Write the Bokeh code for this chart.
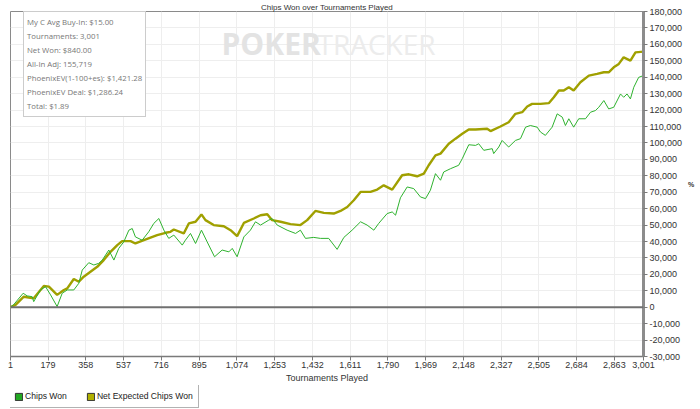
from bokeh.plotting import figure
from bokeh.layouts import column
from bokeh.models import (FixedTicker, NumeralTickFormatter, Legend, LegendItem,
                          Label, Span, Range1d)
from bokeh.embed import file_html
from bokeh.resources import INLINE

title_text = "Chips Won over Tournaments Played"
x_title = "Tournaments Played"
y_title = "%"

x_ticks = [1, 179, 358, 537, 716, 895, 1074, 1253, 1432, 1611, 1790, 1969,
           2148, 2327, 2505, 2684, 2863, 3001]
y_ticks = [-30000, -20000, -10000, 0, 10000, 20000, 30000, 40000, 50000, 60000,
           70000, 80000, 90000, 100000, 110000, 120000, 130000, 140000, 150000,
           160000, 170000, 180000]

# Net Expected Chips Won (olive)
ev_x = [1, 25, 64, 111, 159, 183, 222, 254, 270, 301, 325, 348, 380, 412, 443,
        475, 507, 530, 570, 593, 633, 696, 736, 759, 775, 822, 846, 878, 906,
        925, 964, 1012, 1044, 1075, 1107, 1154, 1186, 1218, 1241, 1281, 1328,
        1375, 1407, 1446, 1486, 1533, 1565, 1597, 1628, 1660, 1707, 1739, 1770,
        1810, 1857, 1889, 1928, 1960, 1983, 2015, 2039, 2078, 2110, 2142, 2173,
        2205, 2260, 2276, 2323, 2362, 2394, 2426, 2450, 2473, 2513, 2552, 2576,
        2600, 2623, 2647, 2670, 2702, 2742, 2781, 2813, 2836, 2860, 2884, 2907,
        2939, 2963, 3001]
ev_y = [0, 1400, 6400, 5400, 12900, 12500, 7500, 10500, 11500, 17200, 15500,
        18600, 21600, 24600, 28700, 33700, 37800, 40200, 40200, 38800, 40800,
        43900, 45300, 45900, 47300, 44900, 51000, 52000, 56500, 53000, 50000,
        49300, 46900, 43300, 51300, 54000, 56000, 56600, 53000, 52000, 50600,
        50000, 53000, 58600, 57400, 57000, 58600, 61000, 65100, 70200, 70200,
        71600, 74200, 71600, 80300, 80900, 79700, 81300, 86400, 92400, 93500,
        99500, 102600, 105600, 108200, 108200, 108600, 107200, 110000, 112600,
        117700, 118700, 122200, 123800, 123800, 124200, 127800, 131900, 131900,
        133900, 131900, 136900, 141000, 142000, 143000, 143000, 146000, 148100,
        152100, 150100, 155100, 155600]

# Chips Won (green)
cw_x = [1, 15, 61, 80, 104, 111, 143, 167, 191, 222, 246, 270, 301, 325, 341,
        372, 396, 419, 436, 467, 491, 514, 538, 562, 578, 593, 625, 656, 680,
        704, 728, 751, 775, 815, 830, 854, 878, 906, 933, 968, 1004, 1036, 1052,
        1075, 1107, 1138, 1162, 1186, 1225, 1241, 1265, 1312, 1352, 1375, 1399,
        1438, 1470, 1509, 1549, 1581, 1620, 1660, 1691, 1723, 1746, 1786, 1810,
        1826, 1849, 1881, 1912, 1944, 1968, 1991, 2015, 2039, 2054, 2086, 2125,
        2142, 2173, 2205, 2220, 2244, 2284, 2291, 2315, 2331, 2362, 2394, 2418,
        2442, 2465, 2497, 2513, 2536, 2568, 2592, 2616, 2631, 2647, 2670, 2694,
        2726, 2750, 2773, 2789, 2813, 2836, 2860, 2892, 2907, 2923, 2939, 2955,
        2978, 3001]
cw_y = [0, 1400, 8500, 6900, 6400, 3400, 10500, 12500, 7500, 400, 8500, 10500,
        10500, 14600, 22600, 27100, 25700, 26700, 28700, 34800, 28700, 35800,
        39800, 46900, 47900, 42800, 40800, 45900, 51000, 54000, 46900, 41900,
        43900, 37800, 40800, 44900, 38800, 46900, 39800, 30700, 34800, 33700,
        35800, 30700, 42800, 46900, 52000, 50000, 53000, 54000, 50000, 46900,
        44900, 46900, 41900, 42500, 41900, 41900, 35200, 42500, 46900, 52000,
        50000, 46900, 51000, 57000, 58000, 56000, 66600, 73200, 72200, 67100,
        66100, 71200, 81300, 77300, 82300, 84300, 86400, 90400, 98900, 98500,
        99500, 95500, 96500, 93500, 97500, 101500, 97500, 101500, 102600, 109600,
        110600, 109600, 106600, 104600, 109600, 117700, 115700, 110600, 114700,
        109600, 114700, 114700, 118700, 119700, 121700, 125800, 120700, 121700,
        129800, 127800, 129800, 126800, 133900, 139900, 141000]

series_names = ["Chips Won", "Net Expected Chips Won"]
stats_lines = ["My C Avg Buy-In: $15.00", "Tournaments: 3,001", "Net Won: $840.00",
               "All-In Adj: 155,719", "PhoenixEV(1-100+es): $1,421.28",
               "PhoenixEV Deal: $1,286.24", "Total: $1.89"]

GREEN = "#2eb22e"
OLIVE = "#a0a000"
AXIS_FONT = "Liberation Sans"
NAN = float("nan")

p = figure(width=700, height=385, output_backend="svg", toolbar_location=None,
           x_range=Range1d(1, 3001), y_range=Range1d(-30000, 180000),
           y_axis_location="right",
           min_border_left=10, min_border_top=10, min_border_right=57,
           min_border_bottom=28)
p.background_fill_color = "white"
p.border_fill_color = "white"
p.outline_line_color = "#8a8a8a"
p.outline_line_width = 1

p.title.text = title_text
p.title.text_font = AXIS_FONT
p.title.text_font_size = "8px"
p.title.text_font_style = "normal"
p.title.text_color = "#333333"
p.title.align = "center"
p.title.standoff = 0
p.title.offset = 28

p.xgrid.grid_line_color = "#eeeeee"
p.ygrid.grid_line_color = "#eeeeee"

# x axis
xa = p.xaxis[0]
xa.ticker = FixedTicker(ticks=x_ticks)
xa.formatter = NumeralTickFormatter(format="0,0")
xa.axis_line_color = "#7a7a7a"
xa.axis_line_width = 1.5
xa.major_tick_line_color = "#7a7a7a"
xa.major_tick_out = 4
xa.major_tick_in = 0
xa.minor_tick_line_color = None
xa.major_label_standoff = 1
xa.major_label_text_font = AXIS_FONT
xa.major_label_text_font_size = "9px"
xa.major_label_text_color = "#333333"
xa.axis_label = x_title
xa.axis_label_text_font = AXIS_FONT
xa.axis_label_text_font_size = "9px"
xa.axis_label_text_font_style = "normal"
xa.axis_label_text_color = "#333333"
xa.axis_label_standoff = 2

# y axis (right)
ya = p.yaxis[0]
ya.ticker = FixedTicker(ticks=y_ticks)
ya.formatter = NumeralTickFormatter(format="0,0")
ya.axis_line_color = "#8c8c8c"
ya.axis_line_width = 3
ya.major_tick_line_color = "#7a7a7a"
ya.major_tick_out = 4
ya.major_tick_in = 0
ya.minor_tick_line_color = None
ya.major_label_standoff = 2
ya.major_label_text_font = AXIS_FONT
ya.major_label_text_font_size = "9px"
ya.major_label_text_color = "#333333"
ya.axis_label = y_title
ya.axis_label_orientation = "horizontal"
ya.axis_label_text_font = AXIS_FONT
ya.axis_label_text_font_size = "7px"
ya.axis_label_text_font_style = "bold"
ya.axis_label_text_color = "#333333"
ya.axis_label_standoff = 3

# watermark
p.add_layout(Label(x=211, y=313, x_units="screen", y_units="screen", text="POKER",
                   text_font="Open Sans", text_font_style="bold", text_font_size="30px",
                   text_color="#e3e3e3", text_baseline="middle", text_align="left"))
p.add_layout(Label(x=307, y=313, x_units="screen", y_units="screen", text="TRACKER",
                   text_font="Open Sans", text_font_size="28px",
                   text_color="#ececec", text_baseline="middle", text_align="left"))

# zero line
p.add_layout(Span(location=0, dimension="width", line_color="#707070", line_width=2))

# series
p.line(ev_x, ev_y, line_color=OLIVE, line_width=2.4)
p.line(cw_x, cw_y, line_color=GREEN, line_width=1)

# stats box
rd = p.quad(left=[NAN], right=[NAN], top=[NAN], bottom=[NAN], fill_alpha=0, line_alpha=0)
stats = Legend(items=[LegendItem(label=s, renderers=[rd]) for s in stats_lines],
               location=(13, 239), orientation="vertical", margin=0, padding=3,
               glyph_width=0, glyph_height=14, label_standoff=0, spacing=0,
               label_height=14, label_text_font="Open Sans", label_text_font_size="7.8px",
               label_text_color="#777777", border_line_color="#999999",
               background_fill_color="white", background_fill_alpha=1)
p.add_layout(stats)

# bottom legend in its own strip
p2 = figure(width=700, height=24, output_backend="svg", toolbar_location=None,
            x_range=Range1d(0, 1), y_range=Range1d(0, 1),
            min_border_left=0, min_border_right=0, min_border_top=0, min_border_bottom=0,
            x_axis_location=None, y_axis_location=None)
p2.outline_line_color = None
p2.background_fill_color = "white"
p2.border_fill_color = "white"
p2.xgrid.visible = False
p2.ygrid.visible = False
rg = p2.quad(left=[NAN], right=[NAN], top=[NAN], bottom=[NAN],
             fill_color="#22a822", line_color="#333333")
ro = p2.quad(left=[NAN], right=[NAN], top=[NAN], bottom=[NAN],
             fill_color="#b0b000", line_color="#333333")
legend = Legend(items=[LegendItem(label=series_names[0], renderers=[rg]),
                       LegendItem(label=series_names[1], renderers=[ro])],
                location=(-2, 1), orientation="horizontal", margin=0, padding=5,
                glyph_width=9, glyph_height=9, label_standoff=2, spacing=19,
                label_height=12, label_text_font=AXIS_FONT, label_text_font_size="8.6px",
                label_text_color="#222222", border_line_color="#666666",
                background_fill_color="white", background_fill_alpha=1)
p2.add_layout(legend)

layout = column(p, p2, spacing=0)
open("out.html", "w").write(file_html(layout, INLINE))
